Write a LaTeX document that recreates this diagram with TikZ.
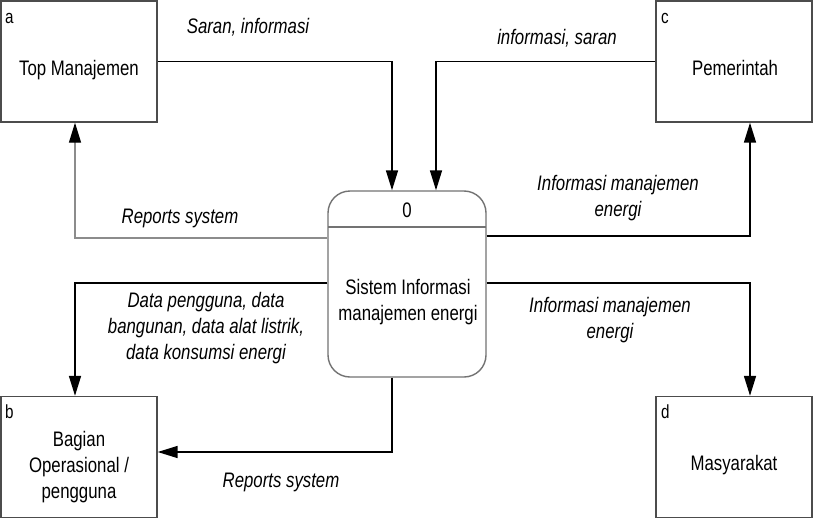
\documentclass[tikz,border=0pt]{standalone}
\usepackage{fontspec}
\setmainfont{Liberation Sans}[FakeStretch=0.8]
\usetikzlibrary{arrows.meta}
\begin{document}
\begin{tikzpicture}[x=1pt,y=-1pt,
  every node/.style={font=\fontsize{21}{26}\selectfont, inner sep=0pt},
  ent/.style={draw=black!70, line width=1.4pt, minimum width=156pt, minimum height=121pt},
  proc/.style={draw=black!55, line width=1.4pt, rounded corners=22pt, minimum width=158pt, minimum height=186pt},
  flow/.style={draw=black, line width=1.6pt, -{Triangle[length=20pt,width=12pt]}},
  flowgray/.style={draw=black!45, line width=1.4pt, -{Triangle[length=20pt,width=12pt,fill=black,color=black]}},
  lbl/.style={font=\fontsize{21}{26}\selectfont\itshape, align=center},
  tag/.style={font=\fontsize{19}{20}\selectfont}]
\useasboundingbox (0,0) rectangle (813,519);
\fill[white] (0,0) rectangle (813,519);
% entities
\node[ent] (a) at (79,61.5) {};
\node[ent] (b) at (79,457) {};
\node[ent] (c) at (734,61.5) {};
\node[ent] (d) at (734,457) {};
\node[tag, anchor=base west] (ta) at (5,24) {a};
\node[tag, anchor=base west] (tb) at (5,418) {b};
\node[tag, anchor=base west] (tc) at (661,24) {c};
\node[tag, anchor=base west] (td) at (661,418) {d};
\node[anchor=base] (na) at (79,75) {Top Manajemen};
\node[align=center] (nb) at (79,467) {Bagian\\Operasional /\\pengguna};
\node[anchor=base] (nc) at (735,75) {Pemerintah};
\node[anchor=base] (nd) at (734,470) {Masyarakat};
% process
\node[proc] (p) at (407,284) {};
\coordinate (pl) at (328,227);
\coordinate (pr) at (486,227);
\draw[draw=black!55, line width=1.4pt] (pl) -- (pr);
\node[anchor=base] (p0) at (407,217) {0};
\node[align=center] (pt) at (408,302) {Sistem Informasi\\manajemen energi};
% flows
\draw[flow] (a.east) -| ([xshift=-15pt]p.north);
\draw[flow] (c.west) -| ([xshift=29pt]p.north);
\draw[flowgray] ([yshift=46pt]p.west) -| ([xshift=-4pt]a.south);
\draw[flow] ([yshift=48pt]p.east) -| ([xshift=16pt]c.south);
\draw[flow] ([yshift=1pt]p.west) -| ([xshift=-4pt]b.north);
\draw[flow] ([yshift=1pt]p.east) -| ([xshift=16pt]d.north);
\draw[flow] ([xshift=-15pt]p.south) |- ([yshift=5pt]b.east);
% labels
\node[lbl, anchor=base] (l1) at (248,34) {Saran, informasi};
\node[lbl, anchor=base] (l2) at (557,45) {informasi, saran};
\node[lbl, anchor=base] (l3) at (180,223) {Reports system};
\node[lbl] (l4) at (618,198) {Informasi manajemen\\energi};
\node[lbl] (l5) at (206,328) {Data pengguna, data\\bangunan, data alat listrik,\\data konsumsi energi};
\node[lbl] (l6) at (610,320) {Informasi manajemen\\energi};
\node[lbl, anchor=base] (l7) at (281,487) {Reports system};
\end{tikzpicture}
\end{document}
